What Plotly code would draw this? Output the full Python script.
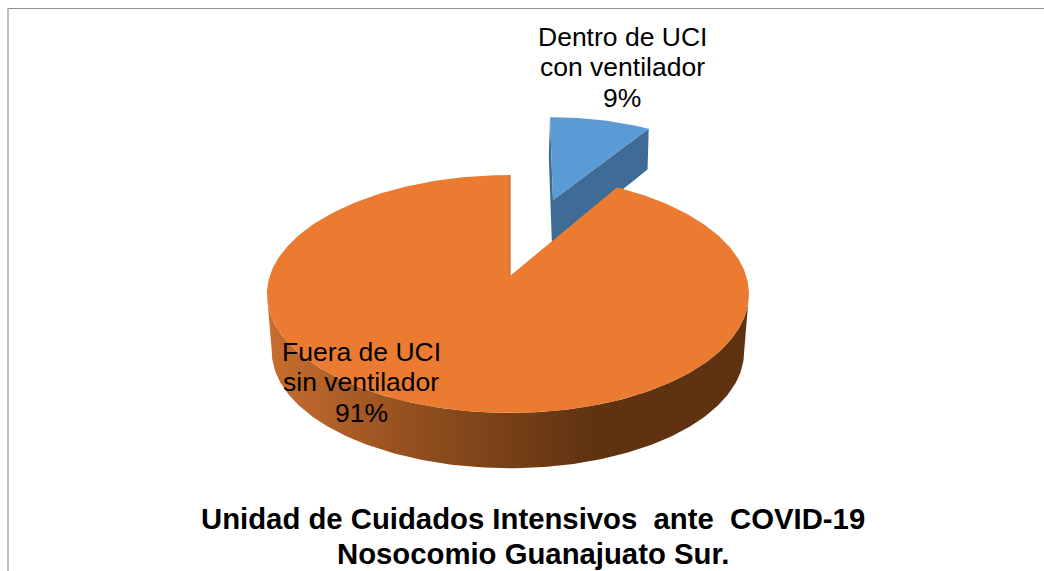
import numpy as np
import plotly.graph_objects as go

categories = [["Dentro de UCI", "con ventilador"], ["Fuera de UCI", "sin ventilador"]]
values = [9, 91]
title_lines = ["Unidad de Cuidados Intensivos  ante  COVID-19", "Nosocomio Guanajuato Sur."]

W, H = 1044, 571
FONT = "Liberation Sans, Arial, sans-serif"
BLUE_TOP, BLUE_SIDE = "#5B9BD5", "#3F6C96"
ORANGE_TOP = "#EB7B30"
SIDE_STOPS = [[0, "#C86E2E"], [0.28, "#96511F"], [0.68, "#5F3212"], [1, "#5F3212"]]

# perspective projection of the unit pie on the page
C, D, B, K, Y0 = 0.1513, 0.0085, 74.5, 238.2, 276
EDGE_SKEW = 1.8  # degrees the front cut edge of the big slice appears rotated by perspective


def project(theta_deg, ax, ay, sx=1.0, sy=1.0, lean=0.0):
    t = np.radians(np.asarray(theta_deg, dtype=float))
    u, v = np.sin(t), np.cos(t)
    w = 1 + C * v
    dy = sy * ((Y0 - B * v) / w - Y0)
    dx = sx * K * u / (w + D * u)
    return ax + dx + lean * dy, ay + dy


blue_sweep = 360 * values[0] / sum(values)
th_orange = np.linspace(blue_sweep - EDGE_SKEW, 360, 300)
th_blue = np.linspace(0, blue_sweep, 40)
lim = np.degrees(np.arccos(-C))
th_front = np.linspace(lim, 360 - lim, 200)

fig = go.Figure()


def poly(x, y, color=None, **kw):
    fig.add_trace(go.Scatter(x=x, y=y, mode="lines", fill="toself", fillcolor=color,
                             line=dict(width=0), hoverinfo="skip", showlegend=False, **kw))


# blue slice: cut faces, then top
b = dict(ax=553, ay=200, sx=0.872, sy=0.82, lean=0.036)
bb = dict(ax=552, ay=246, sx=0.872, sy=0.88, lean=0.036)
tx, ty = project(th_blue, **b)
ux, uy = project(th_blue, **bb)
poly([tx[0], ux[0], bb["ax"], ux[-1], tx[-1], b["ax"], tx[0]],
     [ty[0], uy[0], bb["ay"], uy[-1], ty[-1], b["ay"], ty[0]], BLUE_SIDE)
poly(np.r_[b["ax"], tx, b["ax"]], np.r_[b["ay"], ty, b["ay"]], BLUE_TOP)

# orange slice: wall, cut face edge, top
o = dict(ax=510, ay=Y0)
ob = dict(ax=510, ay=334, sx=0.98, sy=0.98)
ax_, ay_ = project(th_front, **o)
bx_, by_ = project(th_front, **ob)
poly(np.r_[bx_, ax_[::-1]], np.r_[by_, ay_[::-1]], None,
     fillgradient=dict(type="horizontal", colorscale=SIDE_STOPS))
ox, oy = project(th_orange, **o)
poly(np.r_[o["ax"], ox, o["ax"]], np.r_[o["ay"], oy, o["ay"]], ORANGE_TOP)
fig.add_trace(go.Scatter(x=[ox[-1], o["ax"]], y=[oy[-1], o["ay"]], mode="lines",
                         line=dict(color="#C4692B", width=1.2), hoverinfo="skip", showlegend=False))

# labels (one annotation per line to hold the tight line spacing)
label_pos = [(622, [37, 67, 98]), (361, [352, 382, 413])]
for name, val, (lx, lys) in zip(categories, values, label_pos):
    for line, ly in zip(name + [f"{val}%"], lys):
        fig.add_annotation(x=lx, y=ly, text=line, showarrow=False, xanchor="center", yanchor="middle",
                           font=dict(family=FONT, size=26.5, color="#000000"))

for line, ly in zip(title_lines, [518, 553]):
    fig.add_annotation(x=533, y=ly, text=line.replace("  ", "&nbsp; "), showarrow=False, xanchor="center",
                       yanchor="middle", font=dict(family=FONT, size=29.3, color="#000000", weight="bold"))

# frame
fig.add_shape(type="line", x0=8, x1=W, y0=8.5, y1=8.5, line=dict(color="#8C8C8C", width=1))
fig.add_shape(type="line", x0=8, x1=8, y0=8, y1=H, line=dict(color="#ABABAB", width=1.5))

fig.update_layout(
    width=W, height=H, margin=dict(l=0, r=0, t=0, b=0),
    paper_bgcolor="white", plot_bgcolor="white",
    xaxis=dict(range=[0, W], visible=False, fixedrange=True),
    yaxis=dict(range=[H, 0], visible=False, fixedrange=True),
)

fig.write_html("out.html", config=dict(displayModeBar=False),
               post_script="document.body.style.margin='0';document.body.style.overflow='hidden';")
